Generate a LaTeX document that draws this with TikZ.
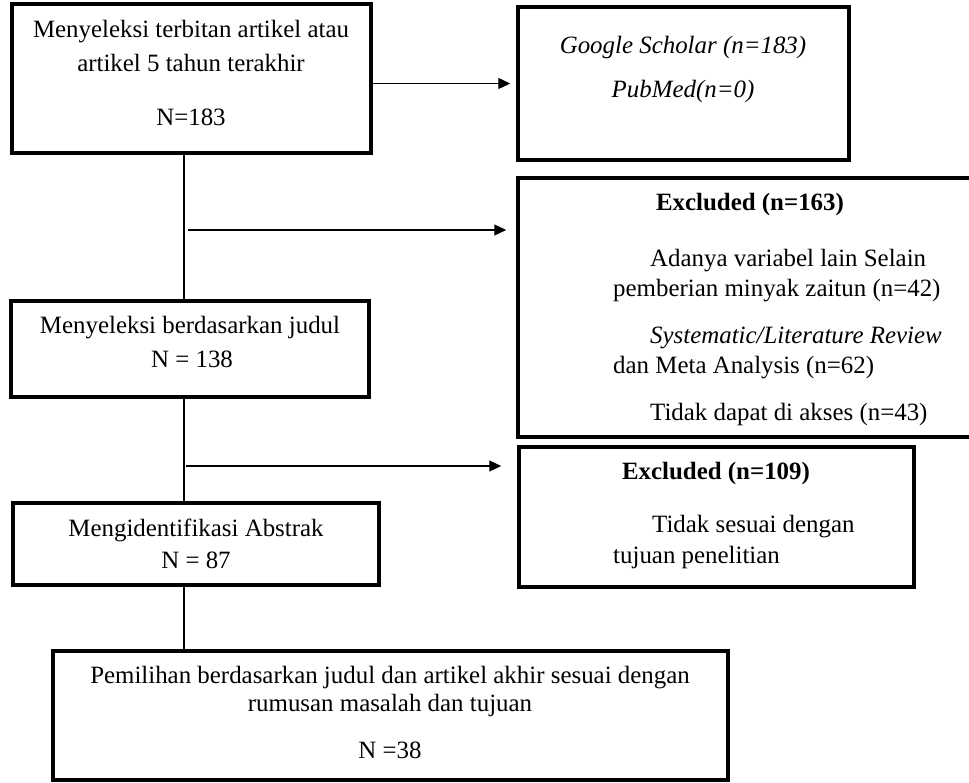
\documentclass[tikz,border=0pt]{standalone}
\usepackage{fontspec}
\setmainfont{Liberation Serif}
\usetikzlibrary{arrows.meta}

\tikzset{
  box/.style={draw=black, line width=3.5pt, rectangle, inner sep=0pt},
  txt/.style={inner sep=0pt, anchor=base, font=\fontsize{24.9}{30}\selectfont},
  txtl/.style={txt, anchor=base west},
  link/.style={line width=1.3pt},
  arr/.style={link, -{Triangle[length=12pt,width=11pt]}}
}

\begin{document}
\begin{tikzpicture}[x=1pt,y=-1pt]
\useasboundingbox (0,0) rectangle (969,782);
\clip (0,0) rectangle (969,782);

% boxes
\node[box, minimum width=359pt, minimum height=149pt] (sel) at (191.5,78.5) {};
\node[box, minimum width=331pt, minimum height=153pt] (goo) at (683.5,83.5) {};
\node[box, minimum width=492pt, minimum height=259pt] (ex1) at (764,307.5) {};
\node[box, minimum width=358pt, minimum height=96pt] (judul) at (190,349) {};
\node[box, minimum width=366pt, minimum height=82pt] (abs) at (196,544) {};
\node[box, minimum width=395pt, minimum height=140pt] (ex2) at (716.5,517) {};
\node[box, minimum width=675pt, minimum height=129pt] (fin) at (390.5,715.5) {};

% texts
\node[txt] (sel1) at (191,37.5) {Menyeleksi terbitan artikel atau};
\node[txt] (sel2) at (191,71.5) {artikel 5 tahun terakhir};
\node[txt] (sel3) at (191,125) {N=183};

\node[txt] (goo1) at (683,53) {\textit{Google Scholar (n=183)}};
\node[txt] (goo2) at (683,97) {\textit{PubMed(n=0)}};

\node[txt] (ex1a) at (750,210) {\textbf{Excluded (n=163)}};
\node[txtl] (ex1b) at (650,266) {Adanya variabel lain Selain};
\node[txtl] (ex1c) at (613,296) {pemberian minyak zaitun (n=42)};
\node[txtl] (ex1d) at (650,343) {\textit{Systematic/Literature Review}};
\node[txtl] (ex1e) at (613,373) {dan Meta Analysis (n=62)};
\node[txtl] (ex1f) at (650,420) {Tidak dapat di akses (n=43)};

\node[txt] (jud1) at (190,333) {Menyeleksi berdasarkan judul};
\node[txt] (jud2) at (192,367) {N = 138};

\node[txt] (abs1) at (196,536) {Mengidentifikasi Abstrak};
\node[txt] (abs2) at (196,568) {N = 87};

\node[txt] (ex2a) at (716,479) {\textbf{Excluded (n=109)}};
\node[txtl] (ex2b) at (652,532) {Tidak sesuai dengan};
\node[txtl] (ex2c) at (613,563) {tujuan penelitian};

\node[txt] (fin1) at (390,683) {Pemilihan berdasarkan judul dan artikel akhir sesuai dengan};
\node[txt] (fin2) at (390,711) {rumusan masalah dan tujuan};
\node[txt] (fin3) at (390,758) {N =38};

% connectors
\coordinate (spine) at (184,0);
\coordinate (br1) at (188,230);
\coordinate (br2) at (186,466);
\draw[link] (sel.south -| spine) -- (judul.north -| spine);
\draw[link] (judul.south -| spine) -- (abs.north -| spine);
\draw[link] (abs.south -| spine) -- (fin.north -| spine);
\draw[arr, shorten >=6pt] (sel.east |- goo.west) -- (goo.west);
\draw[arr, shorten >=10pt] (br1) -- (br1 -| ex1.west);
\draw[arr, shorten >=16pt] (br2) -- (br2 -| ex2.west);
\end{tikzpicture}
\end{document}
